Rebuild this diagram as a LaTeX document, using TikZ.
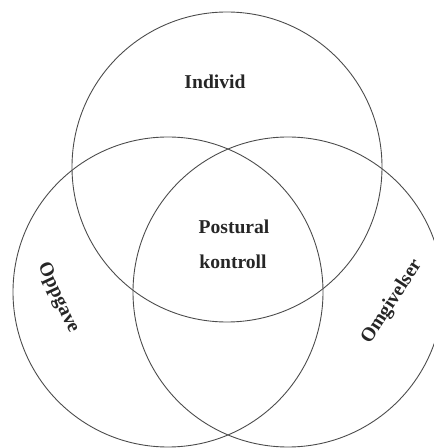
\documentclass[tikz,border=0pt]{standalone}
\usepackage{tikz}
\usepackage{fontspec}
\setmainfont{Liberation Serif}
\usetikzlibrary{math}

\tikzset{ring/.style={draw=black!70,line width=0.9pt,circle,inner sep=0pt,minimum size=2*\rad pt},
	mot/.style={text=black!85,font=\fontsize{19.6}{24}\selectfont\bfseries,inner sep=0pt}}

\begin{document}
\begin{tikzpicture}[x=1pt,y=1pt]

	\tikzmath{\rad = 155; 
			  \indx = 227; \indy = 281;
			  \oppx = 168; \oppy = 156;
			  \omgx = 288; \omgy = 156;
	        }
	\useasboundingbox (0,0) rectangle (434,448);
	\node[ring] (individ) at (\indx,\indy) {};
	\node[ring] (oppgave) at (\oppx,\oppy) {};
	\node[ring] (omgivelser) at (\omgx,\omgy) {};

	\node[mot] (tindivid) at (215,366) {Individ};
	\node[mot] (tpostural) at (234,221) {Postural};
	\node[mot] (tkontroll) at (233,186) {kontroll};
	\node[mot,rotate=-65] (toppgave) at (58,150) {Oppgave};
	\node[mot,rotate=57] (tomgivelser) at (392,146) {Omgivelser};
\end{tikzpicture}
\end{document}
